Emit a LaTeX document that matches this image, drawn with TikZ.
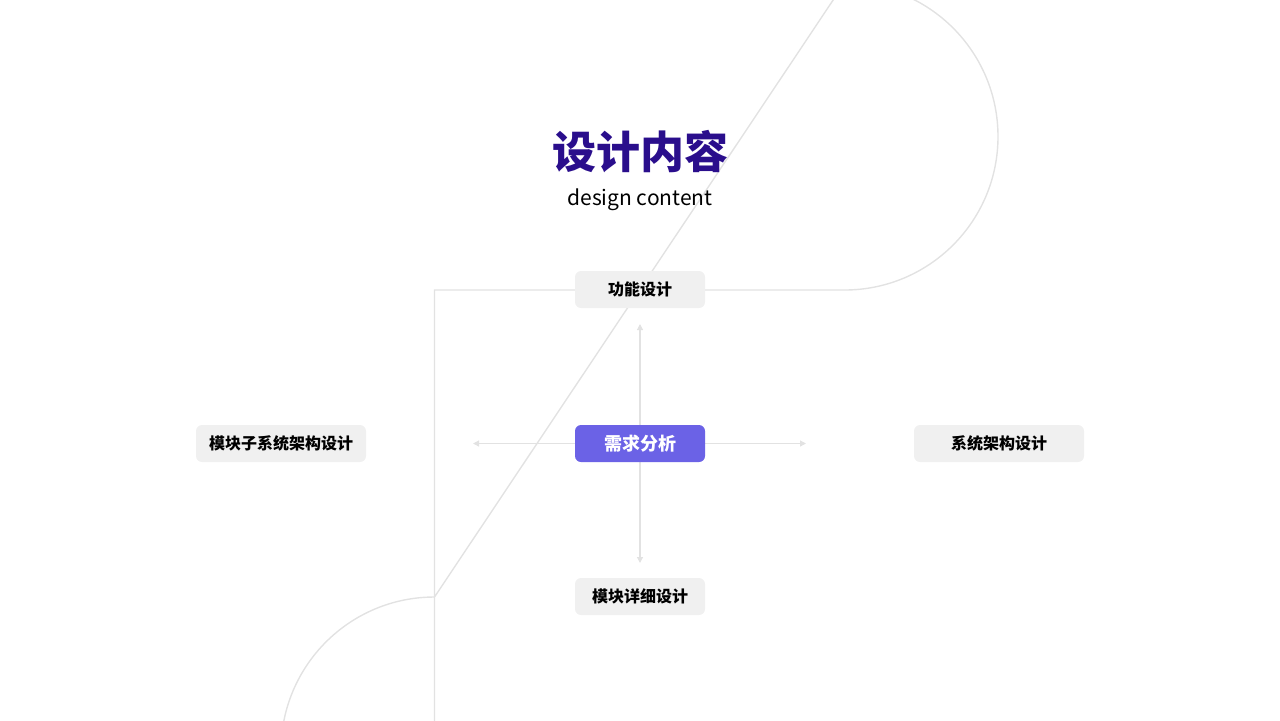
\documentclass[tikz,border=0pt]{standalone}
\usepackage{fontspec}
\setmainfont{Noto Sans CJK SC}
\usetikzlibrary{positioning,arrows.meta}
\definecolor{titlepurple}{HTML}{2A0E8C}
\definecolor{boxgray}{HTML}{F0F0F0}
\definecolor{linegray}{HTML}{E2E2E2}
\definecolor{corepurple}{HTML}{6B62E6}
\tikzset{
  stagebox/.style={rounded corners=3pt, fill=boxgray, minimum height=18.5pt, font=\bfseries\fontsize{8}{10}\selectfont},
  corebox/.style={stagebox, fill=corepurple, text=white, font=\bfseries\fontsize{9}{11}\selectfont},
  spoke/.style={draw=linegray, line width=0.6pt, -{Triangle[length=3pt,width=3pt]}}
}
\begin{document}
\begin{tikzpicture}[x=0.5pt,y=-0.5pt]
  \useasboundingbox (0,0) rectangle (1280,720);

  % track
  \draw[linegray, line width=0.7pt] (434.5,290) -- (844.5,290)
    arc[start angle=90, end angle=-90, radius=153.5] -- (434.5,597)
    arc[start angle=270, end angle=90, radius=153.5] -- cycle;

  % title
  \node[text=titlepurple, font=\bfseries\fontsize{22}{26}\selectfont] (title) at (640,152) {设计内容};
  \node[font=\fontsize{10.5}{12}\selectfont] (subtitle) at (640,200) {design content};

  % spokes
  \coordinate (hub) at (640,443.5);
  \coordinate (tipN) at (640,324);
  \coordinate (tipS) at (640,563);
  \coordinate (tipW) at (473,443.5);
  \coordinate (tipE) at (806,443.5);
  \foreach \t in {tipN,tipS,tipW,tipE}
    \draw[spoke] (hub) -- (\t);

  % boxes
  \node[corebox, minimum width=65pt] (core) at (hub) {需求分析};
  \node[stagebox, minimum width=65pt] (func) at (640,289.5) {功能设计};
  \node[stagebox, minimum width=65pt] (detail) at (640,596.5) {模块详细设计};
  \node[stagebox, minimum width=85pt] (sub) at (281,443.5) {模块子系统架构设计};
  \node[stagebox, minimum width=85pt] (arch) at (999,443.5) {系统架构设计};
\end{tikzpicture}
\end{document}
